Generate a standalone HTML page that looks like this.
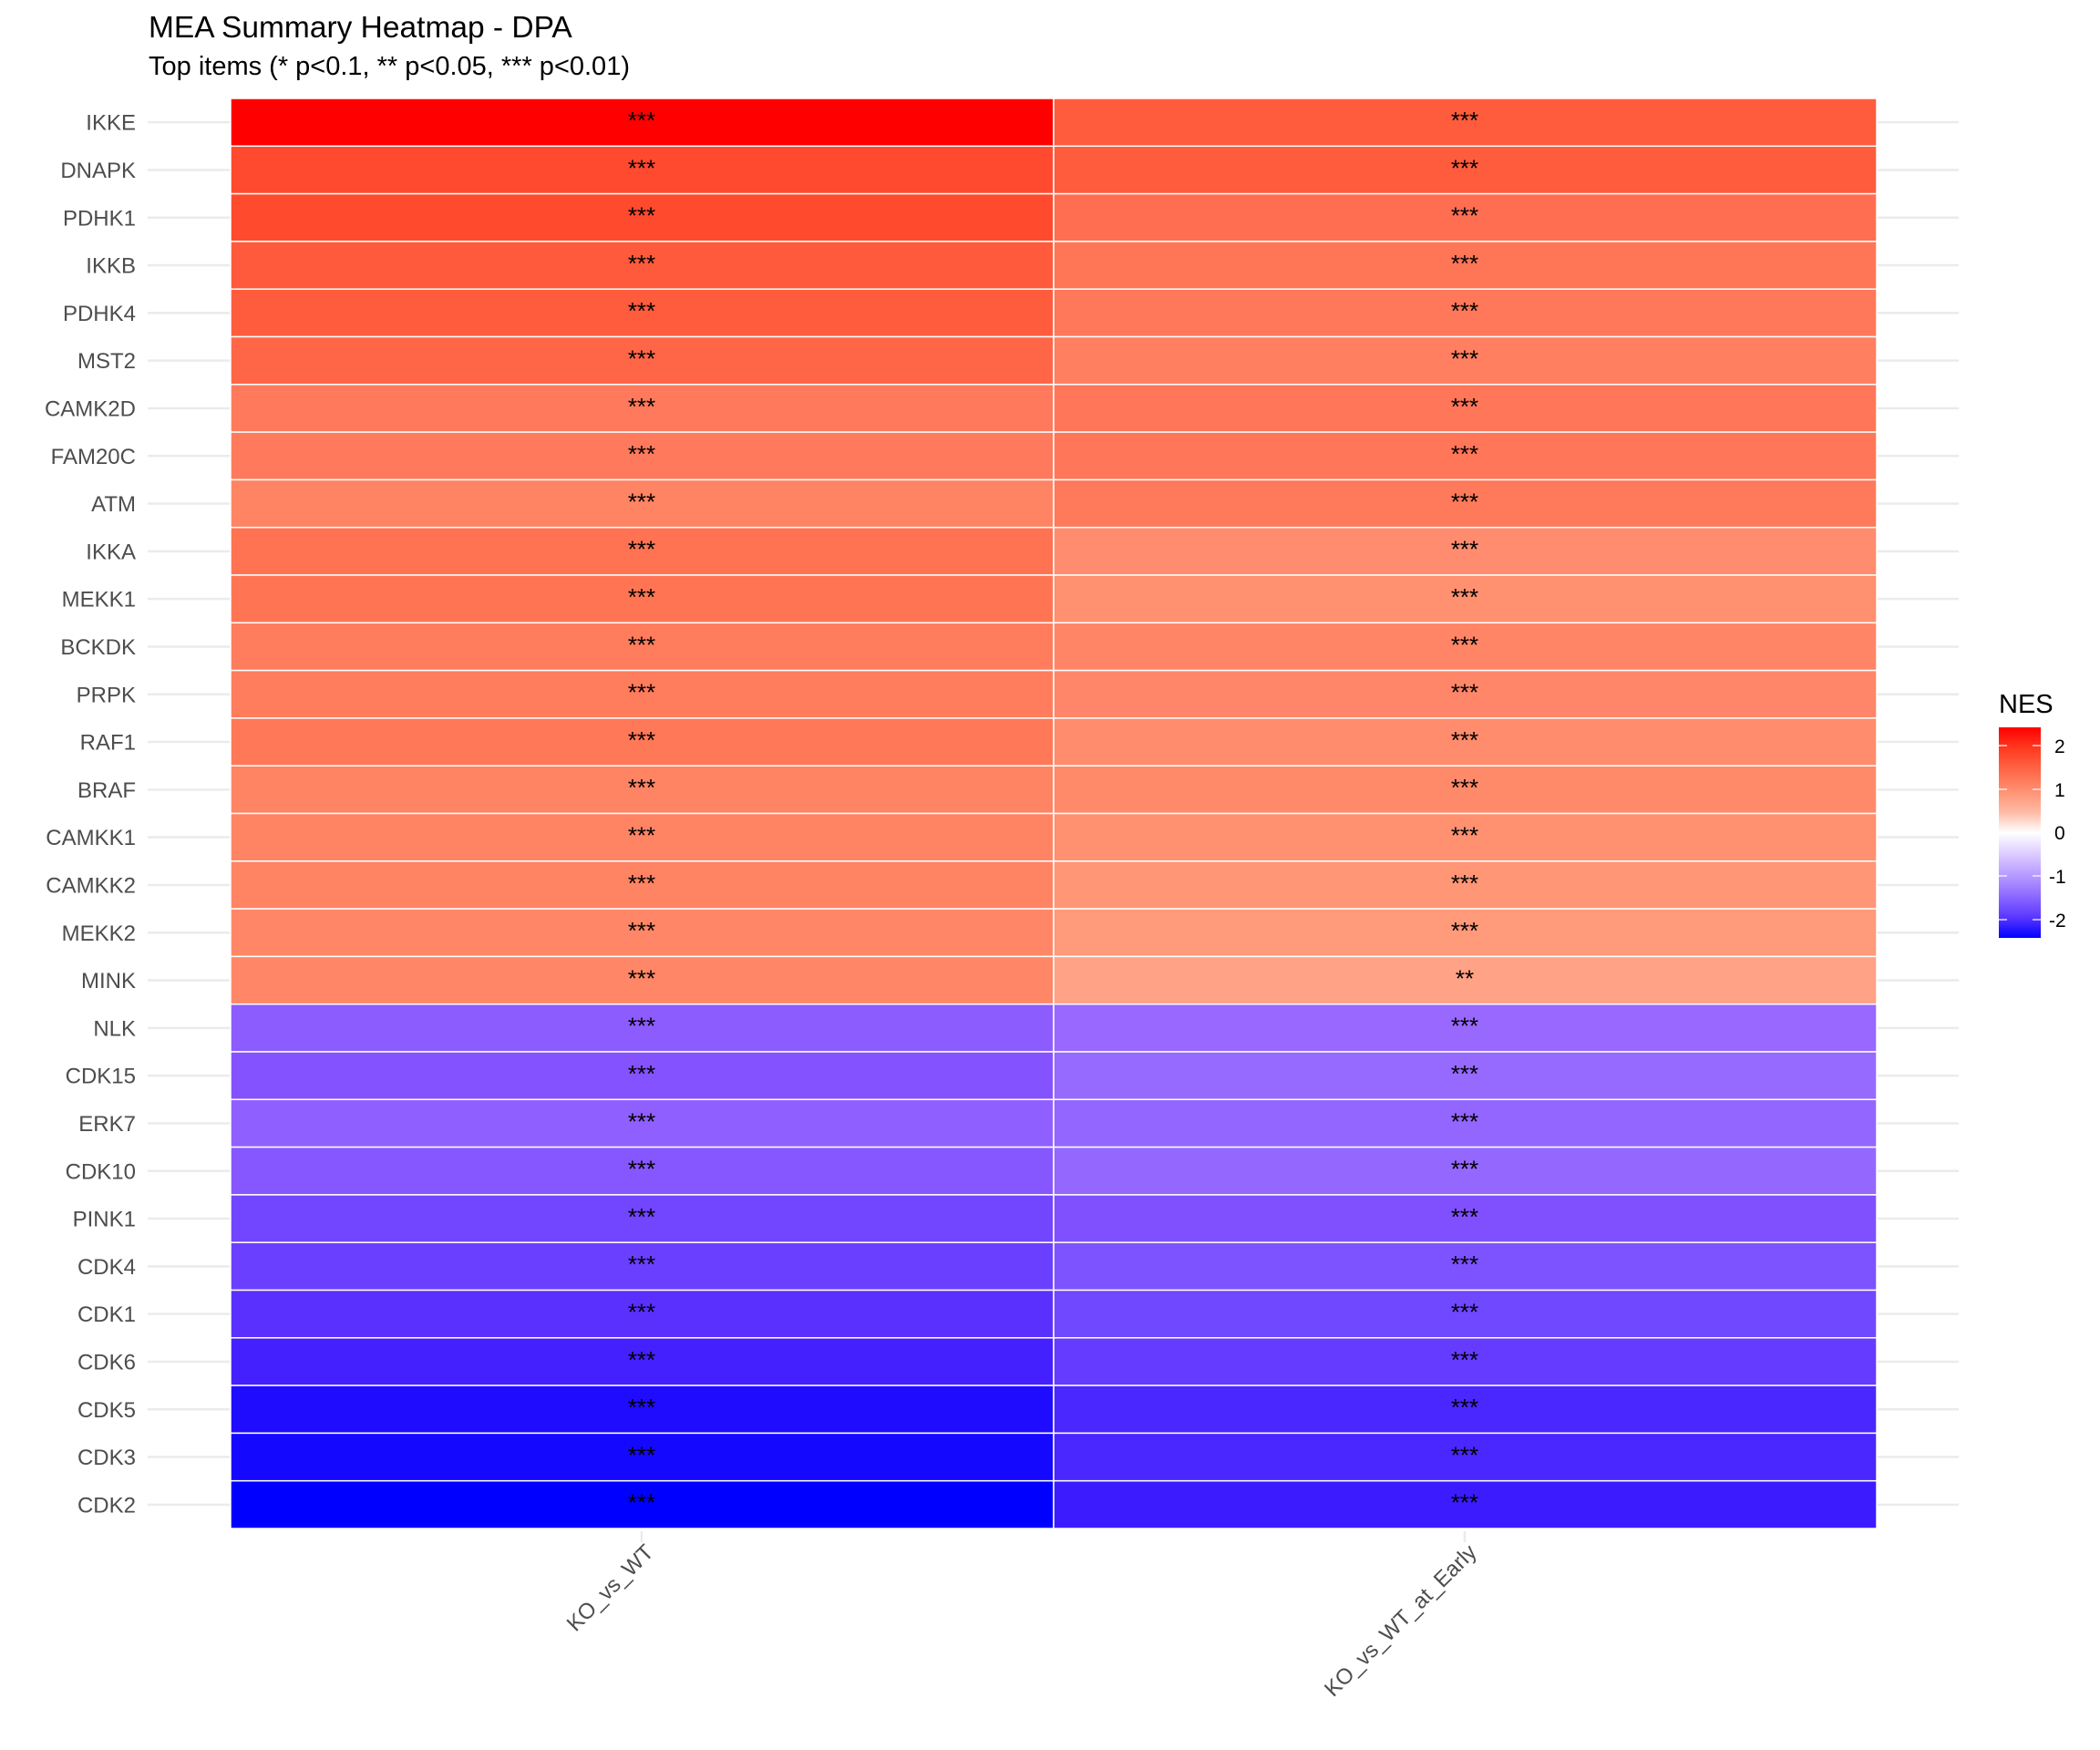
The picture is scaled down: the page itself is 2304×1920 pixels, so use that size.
<!DOCTYPE html>
<html><head><meta charset="utf-8"><style>
html,body{margin:0;padding:0;background:#fff;}
svg{display:block;font-family:"Liberation Sans",Arial,sans-serif;}
</style></head><body>
<svg width="2304" height="1920" viewBox="0 0 2304 1920" xmlns="http://www.w3.org/2000/svg">
<defs>
<linearGradient id="g" x1="0" y1="0" x2="0" y2="1">
<stop offset="0" stop-color="#ff0000"/>
<stop offset="0.1" stop-color="#ff3a20"/>
<stop offset="0.25" stop-color="#ff7a5a"/>
<stop offset="0.4" stop-color="#ffb9a2"/>
<stop offset="0.5" stop-color="#ffffff"/>
<stop offset="0.6" stop-color="#ddcdff"/>
<stop offset="0.75" stop-color="#a583ff"/>
<stop offset="0.9" stop-color="#5c38ff"/>
<stop offset="1" stop-color="#0000ff"/>
</linearGradient>
</defs>
<text x="163" y="41" font-size="33.5" fill="#000">MEA Summary Heatmap - DPA</text>
<text x="163" y="82" font-size="29" fill="#000">Top items (* p&lt;0.1, ** p&lt;0.05, *** p&lt;0.01)</text>
<g id="grid" stroke="#ebebeb" stroke-width="2.5"></g>
<g id="tiles"></g>
<g id="labels" font-size="24" fill="#4d4d4d" text-anchor="end"></g>
<g id="stars" font-size="26" fill="#000" text-anchor="middle"></g>
<line x1="704" y1="1680" x2="704" y2="1692" stroke="#ebebeb" stroke-width="2.5"/>
<line x1="1607" y1="1680" x2="1607" y2="1692" stroke="#ebebeb" stroke-width="2.5"/>
<text transform="translate(712,1698) rotate(-45)" font-size="24" fill="#4d4d4d" text-anchor="end" y="9">KO_vs_WT</text>
<text transform="translate(1615,1698) rotate(-45)" font-size="24" fill="#4d4d4d" text-anchor="end" y="9">KO_vs_WT_at_Early</text>
<text x="2193" y="782" font-size="29" fill="#000">NES</text>
<rect x="2193" y="798" width="46" height="231" fill="url(#g)"/>
<g stroke="#fff" stroke-width="1.5" opacity="0.8">
<line x1="2193" y1="818" x2="2202" y2="818"/><line x1="2230" y1="818" x2="2239" y2="818"/>
<line x1="2193" y1="866" x2="2202" y2="866"/><line x1="2230" y1="866" x2="2239" y2="866"/>
<line x1="2193" y1="961" x2="2202" y2="961"/><line x1="2230" y1="961" x2="2239" y2="961"/>
<line x1="2193" y1="1009" x2="2202" y2="1009"/><line x1="2230" y1="1009" x2="2239" y2="1009"/>
</g>
<g font-size="21" fill="#000">
<text x="2254" y="826">2</text>
<text x="2254" y="874">1</text>
<text x="2254" y="921">0</text>
<text x="2248" y="969">-1</text>
<text x="2248" y="1017">-2</text>
</g>
</svg>
<script>
const names=["IKKE","DNAPK","PDHK1","IKKB","PDHK4","MST2","CAMK2D","FAM20C","ATM","IKKA","MEKK1","BCKDK","PRPK","RAF1","BRAF","CAMKK1","CAMKK2","MEKK2","MINK","NLK","CDK15","ERK7","CDK10","PINK1","CDK4","CDK1","CDK6","CDK5","CDK3","CDK2"];
const c1=["#ff0000","#ff4a30","#ff4a2e","#ff5a3c","#ff5c3e","#ff6647","#ff7a5c","#ff7a5c","#ff8463","#ff7352","#ff7554","#ff7c5c","#ff7c5c","#ff7858","#ff8464","#ff8464","#ff8464","#ff8767","#ff8767","#8c5cff","#8552ff","#8f5fff","#8657ff","#7245ff","#6a3fff","#5a30ff","#4520ff","#1f0cff","#1508ff","#0000ff"];
const c2=["#ff5c3d","#ff5c3e","#ff6e50","#ff7656","#ff785a","#ff7f60","#ff7658","#ff7658","#ff7a5a","#ff8c6e","#ff9070","#ff8566","#ff8668","#ff8c6c","#ff8a6a","#ff9070","#ff9676","#ff9a7a","#ffa285","#9868ff","#966aff","#9366ff","#9468ff","#8050ff","#7d52ff","#7048ff","#653bff","#4b27ff","#4a26ff","#3c1cff"];
const NS="http://www.w3.org/2000/svg";
const top0=108,h=(1677-108)/30;
function el(p,t,a,txt){const e=document.createElementNS(NS,t);for(const k in a)e.setAttribute(k,a[k]);if(txt!==undefined)e.textContent=txt;document.getElementById(p).appendChild(e);}
for(let i=0;i<30;i++){
 const y=top0+i*h, cy=y+h/2;
 el("grid","line",{x1:162,x2:2149,y1:cy,y2:cy});
 el("tiles","rect",{x:253,y:y,width:903,height:h,fill:c1[i],stroke:"#fff","stroke-width":1.5});
 el("tiles","rect",{x:1156,y:y,width:903,height:h,fill:c2[i],stroke:"#fff","stroke-width":1.5});
 el("labels","text",{x:149,y:cy+8.5},names[i]);
 el("stars","text",{x:704,y:y+33},"***");
 el("stars","text",{x:1607,y:y+33},i==18?"**":"***");
}
</script>
</body></html>
